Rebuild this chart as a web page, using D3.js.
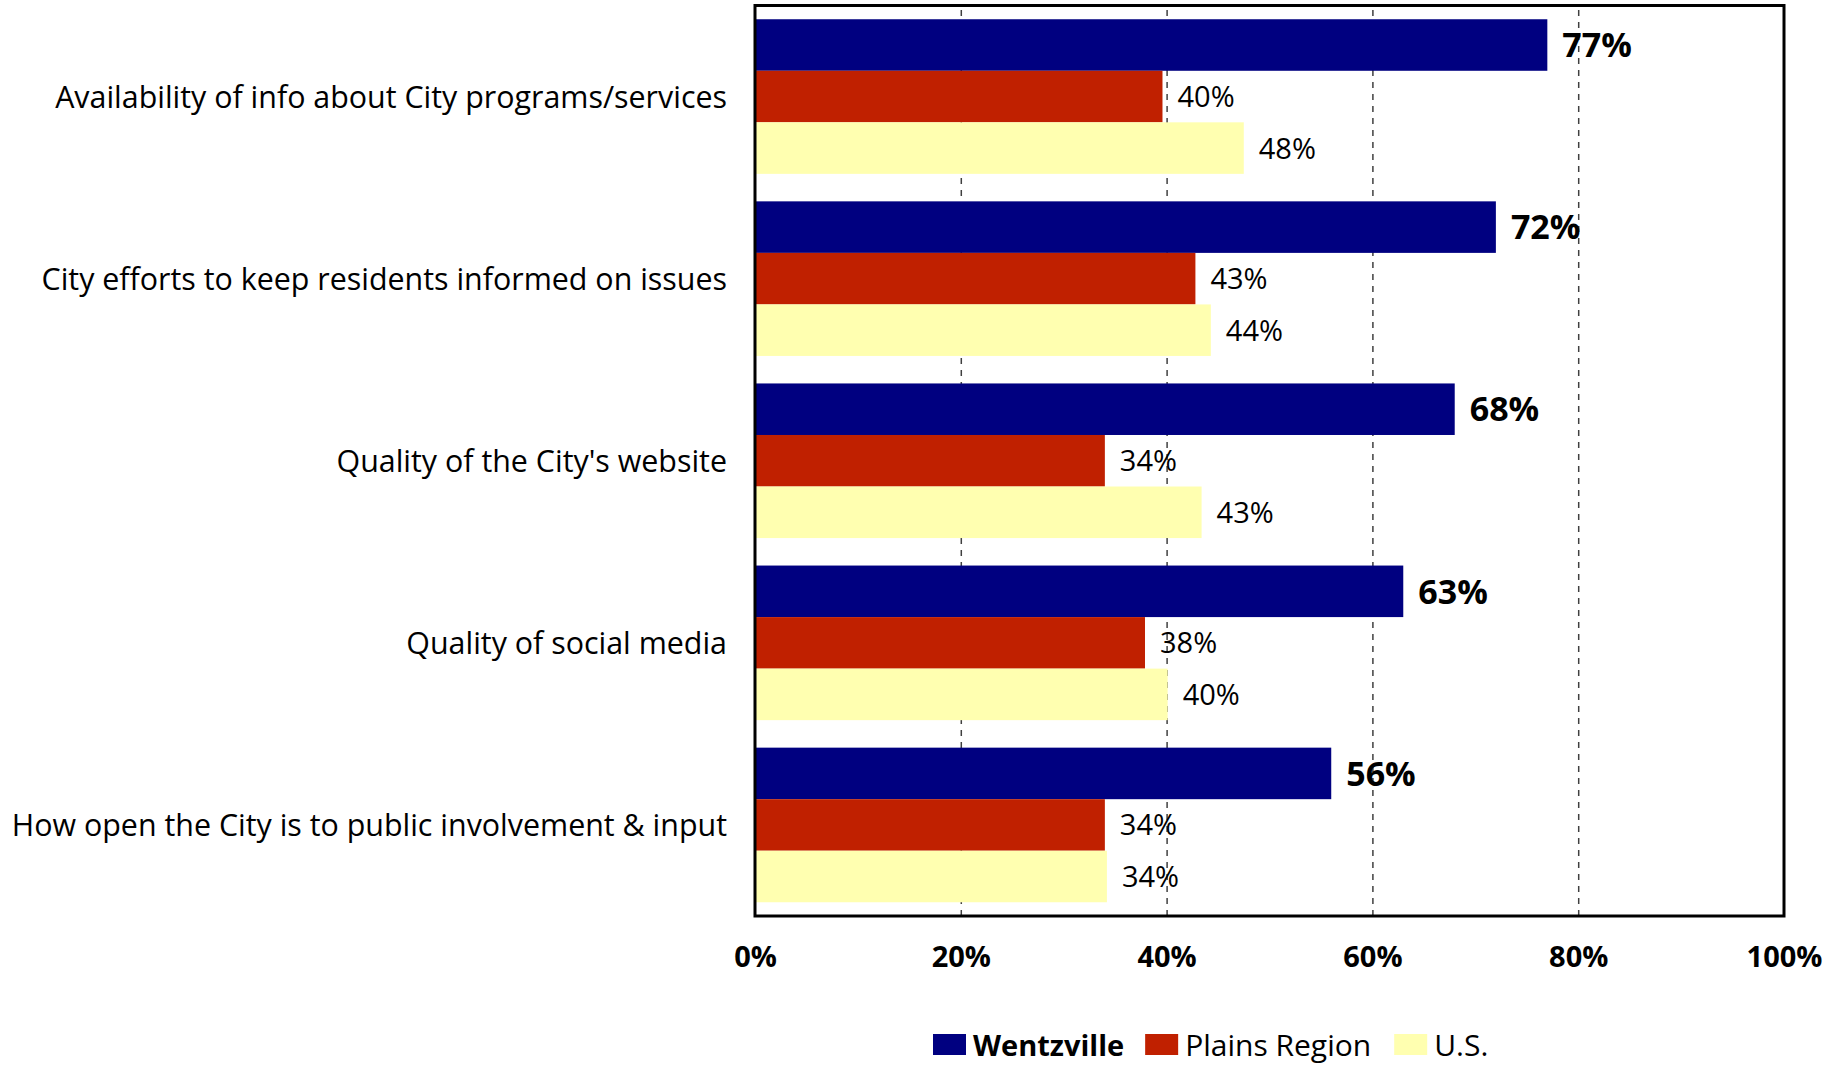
<!DOCTYPE html>
<html>
<head>
<meta charset="utf-8">
<script src="https://cdn.jsdelivr.net/npm/d3@7"></script>
<style>
  html, body { margin: 0; padding: 0; background: #ffffff; }
  svg { display: block; }
  text { font-family: "Open Sans", "Liberation Sans", sans-serif; fill: #000; }
</style>
</head>
<body>
<svg id="chart" width="1843" height="1066"></svg>
<script>
// ---- Data ----
const categories = [
  "Availability of info about City programs/services",
  "City efforts to keep residents informed on issues",
  "Quality of the City's website",
  "Quality of social media",
  "How open the City is to public involvement & input"
];
const seriesNames = ["Wentzville", "Plains Region", "U.S."];
const wentzville = [77, 72, 68, 63, 56];
const plainsRegion = [39.6, 42.8, 34, 37.9, 34];
const usValues = [47.5, 44.3, 43.4, 40.1, 34.2];
const tickValues = [0, 20, 40, 60, 80, 100];
const gridValues = [20, 40, 60, 80];

const seriesValues = [wentzville, plainsRegion, usValues];
const colors = ["#000080", "#C02000", "#FFFFB0"];

// ---- Layout ----
const plotLeft = 755, plotRight = 1784, plotTop = 5.5, plotBottom = 916;

const svg = d3.select("#chart");

const x = d3.scaleLinear().domain([0, 100]).range([plotLeft, plotRight]);
const y = d3.scaleBand().domain(categories).range([plotTop, plotBottom])
  .paddingInner(0.151).paddingOuter(0.0755);
const ySub = d3.scaleBand().domain(seriesNames).range([0, y.bandwidth()]).padding(0);

// gridlines
const grid = svg.append("g")
  .attr("transform", `translate(0,${plotBottom})`)
  .call(d3.axisBottom(x).tickValues(gridValues).tickSize(-(plotBottom - plotTop)).tickFormat(""));
grid.select(".domain").remove();
grid.selectAll("line")
  .attr("stroke", "#404040")
  .attr("stroke-width", 1.5)
  .attr("stroke-dasharray", "6,6");

// bars
const rows = categories.map((c, i) => ({
  category: c,
  values: seriesNames.map((s, j) => ({ series: s, idx: j, value: seriesValues[j][i] }))
}));

const groups = svg.append("g").selectAll("g.group")
  .data(rows).join("g")
  .attr("class", "group")
  .attr("transform", d => `translate(0,${y(d.category)})`);

groups.selectAll("rect")
  .data(d => d.values).join("rect")
  .attr("x", x(0))
  .attr("y", d => ySub(d.series))
  .attr("width", d => x(d.value) - x(0))
  .attr("height", ySub.bandwidth())
  .attr("fill", d => colors[d.idx]);

groups.selectAll("text.val")
  .data(d => d.values).join("text")
  .attr("class", "val")
  .attr("x", d => x(d.value) + 15)
  .attr("y", d => ySub(d.series) + ySub.bandwidth() / 2)
  .attr("dy", "0.36em")
  .style("font-size", d => d.idx === 0 ? "34px" : "29px")
  .style("font-weight", d => d.idx === 0 ? "700" : "400")
  .text(d => Math.round(d.value) + "%");

// category labels
const yAxis = svg.append("g")
  .attr("transform", `translate(${plotLeft},0)`)
  .call(d3.axisLeft(y).tickSize(0).tickPadding(28));
yAxis.select(".domain").remove();
yAxis.selectAll("text")
  .attr("fill", "#000")
  .style("font-family", "'Open Sans', sans-serif")
  .style("font-size", "30.4px")
  .attr("dy", "0.36em");

// x tick labels
const xAxis = svg.append("g")
  .attr("transform", `translate(0,${plotBottom})`)
  .call(d3.axisBottom(x).tickValues(tickValues).tickSize(0).tickPadding(30).tickFormat(d => d + "%"));
xAxis.select(".domain").remove();
xAxis.selectAll("text")
  .attr("fill", "#000")
  .style("font-family", "'Open Sans', sans-serif")
  .style("font-size", "29px")
  .style("font-weight", "700");

// plot border
svg.append("rect")
  .attr("x", plotLeft).attr("y", plotTop)
  .attr("width", plotRight - plotLeft).attr("height", plotBottom - plotTop)
  .attr("fill", "none").attr("stroke", "#000").attr("stroke-width", 3);

// legend
const legend = svg.append("g");
let lx = 933;
const gaps = [21, 23, 0];
seriesNames.forEach((s, i) => {
  legend.append("rect")
    .attr("x", lx).attr("y", 1034).attr("width", 33).attr("height", 21)
    .attr("fill", colors[i]);
  const t = legend.append("text")
    .attr("x", lx + 40).attr("y", 1056)
    .style("font-size", i === 0 ? "29px" : "30px")
    .style("font-weight", i === 0 ? "700" : "400")
    .text(s);
  lx = lx + 40 + t.node().getComputedTextLength() + gaps[i];
});
</script>
</body>
</html>
